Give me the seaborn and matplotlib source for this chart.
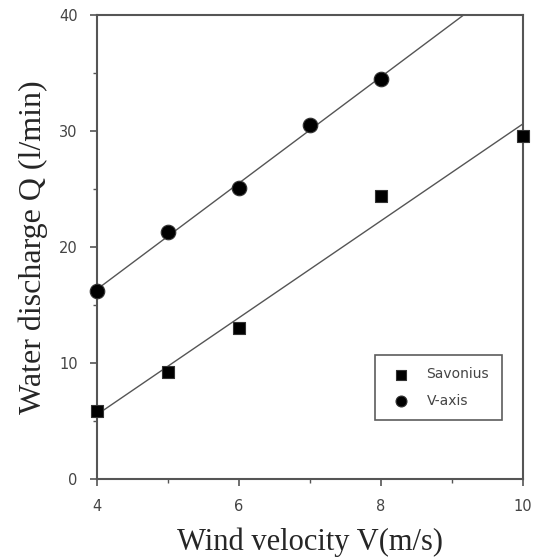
import numpy as np
import pandas as pd
import matplotlib
matplotlib.use("Agg")
import matplotlib.pyplot as plt
import seaborn as sns
from matplotlib.ticker import MultipleLocator

sns.set_style("ticks")
plt.rcParams['font.family'] = ['DejaVu Sans']

# data
sav_v = [4, 5, 6, 8, 10]
sav_q = [5.9, 9.2, 13.0, 24.4, 29.6]
vax_v = [4, 5, 6, 7, 8]
vax_q = [16.2, 21.3, 25.1, 30.5, 34.5]
series_names = ["Savonius", "V-axis"]
x_ticks = [4, 6, 8, 10]
y_ticks = [0, 10, 20, 30, 40]

fig = plt.figure(figsize=(5.42, 5.59), dpi=100)
ax = fig.add_axes([0.179, 0.143, 0.786, 0.830])
ax.set_xlim(4, 10)
ax.set_ylim(0, 40)

gray = "#555555"
sns.regplot(x=sav_v, y=sav_q, ax=ax, ci=None, truncate=False, scatter=False,
            line_kws=dict(color=gray, lw=1.0))
sns.regplot(x=vax_v, y=vax_q, ax=ax, ci=None, truncate=False, scatter=False,
            line_kws=dict(color=gray, lw=1.0))

sns.scatterplot(x=sav_v, y=sav_q, marker="s", color="black", s=85, edgecolor="#333333",
                linewidth=0.8, ax=ax, clip_on=False, zorder=5, label=series_names[0])
sns.scatterplot(x=vax_v, y=vax_q, marker="o", color="black", s=110, edgecolor="#333333",
                linewidth=0.8, ax=ax, clip_on=False, zorder=5, label=series_names[1])

ax.set_xlim(4, 10)
ax.set_ylim(0, 40)
ax.set_xticks(x_ticks)
ax.set_yticks(y_ticks)
ax.xaxis.set_minor_locator(MultipleLocator(1))
ax.yaxis.set_minor_locator(MultipleLocator(5))
ax.tick_params(axis='both', which='major', direction='out', length=5, width=1.2,
               color=gray, labelcolor="#444444", labelsize=10.5, pad=9)
ax.tick_params(axis='both', which='minor', direction='out', length=3, width=1.0, color=gray)
for sp in ax.spines.values():
    sp.set_visible(True)
    sp.set_color(gray)
    sp.set_linewidth(1.5)

ax.set_xlabel("Wind velocity V(m/s)", family="Liberation Serif", fontsize=22, labelpad=10)
ax.set_ylabel("Water discharge Q (l/min)", family="Liberation Serif", fontsize=23, labelpad=8)

leg = ax.legend(loc="lower right", bbox_to_anchor=(0.966, 0.112), frameon=True, fancybox=False,
                fontsize=10, handletextpad=0.8, borderpad=0.9, labelspacing=0.9, markerscale=0.75)
leg.get_frame().set_edgecolor("#333333")
leg.get_frame().set_linewidth(1.2)
for t in leg.get_texts():
    t.set_color("#444444")

fig.savefig("out.png", dpi=100)
